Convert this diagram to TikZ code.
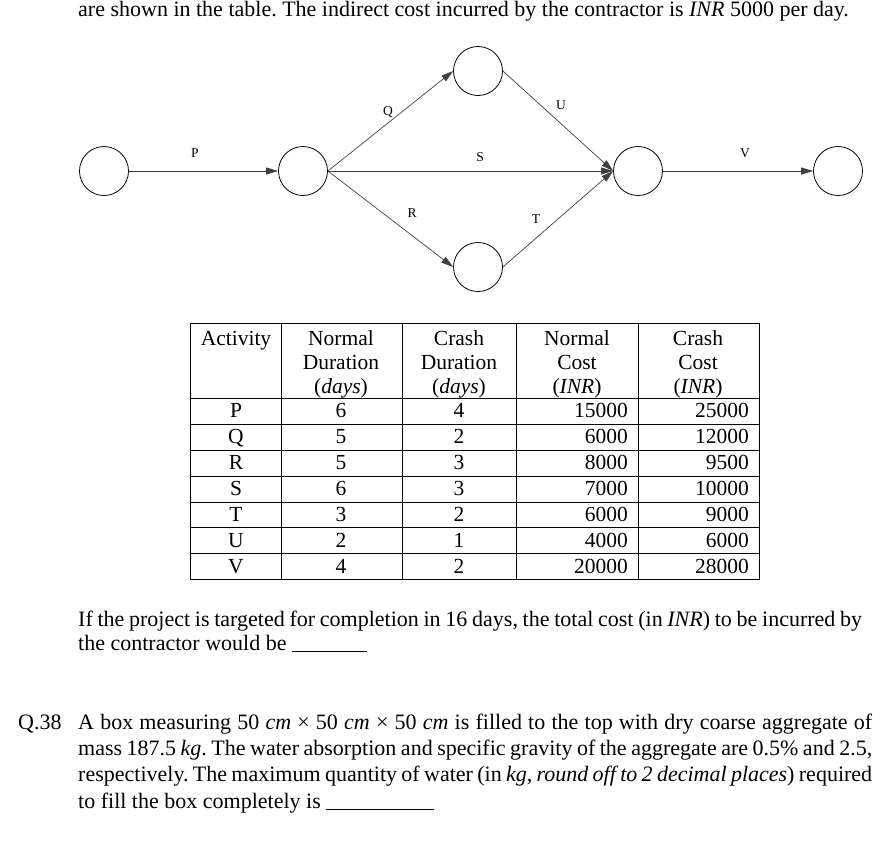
\documentclass[tikz,border=0pt]{standalone}
\usepackage{fontspec}
\setmainfont{Liberation Serif}
\usetikzlibrary{arrows.meta}
\frenchspacing
\begin{document}
\begin{tikzpicture}[x=1pt,y=-1pt,
  ev/.style={circle,draw,thick,minimum size=49pt,inner sep=0pt},
  act/.style={draw=black!75,-{Triangle[length=12pt,width=7pt]},line width=0.7pt},
  lab/.style={font=\fontsize{13.5}{15}\selectfont,inner sep=0pt},
  txt/.style={anchor=base west,inner sep=0pt,font=\fontsize{22}{24}\selectfont},
  cell/.style={anchor=base,inner sep=0pt,font=\fontsize{21.5}{24}\selectfont},
  rc/.style={anchor=base east,inner sep=0pt,font=\fontsize{21.5}{24}\selectfont}]
\useasboundingbox (0,0) rectangle (893,852);
\node[txt] (top) at (78,16) {are shown in the table. The indirect cost incurred by the contractor is \textit{INR} 5000 per day.};
% network
\node[ev] (n1) at (104,171) {};
\node[ev] (n2) at (303,171) {};
\node[ev] (n3) at (478,71) {};
\node[ev] (n4) at (478,267) {};
\node[ev] (n5) at (638,171) {};
\node[ev] (n6) at (838,171) {};
\draw[act] (n1) -- (n2);
\draw[act] (n2.east) -- (n3.west);
\draw[act] (n2.east) -- (n4.west);
\draw[act] (n2.east) -- (n5.west);
\draw[act] (n3.east) -- (n5.west);
\draw[act] (n4.east) -- (n5.west);
\draw[act] (n5) -- (n6);
\node[lab] (lP) at (195,153) {P};
\node[lab] (lQ) at (388,112) {Q};
\node[lab] (lS) at (480,157) {S};
\node[lab] (lR) at (412,213) {R};
\node[lab] (lT) at (536,219) {T};
\node[lab] (lU) at (561,105) {U};
\node[lab] (lV) at (745,153) {V};
% table
\draw[line width=0.7pt] (190,323) rectangle (759,579);
\foreach \x in {281,402,516,638} \draw[line width=0.7pt] (\x,323) -- (\x,579);
\foreach \y in {398,424,450,476,502,527,553} \draw[line width=0.7pt] (190,\y) -- (759,\y);
\node[cell] (h1) at (236,345) {Activity};
\node[cell] (h2a) at (341,345) {Normal};
\node[cell] (h2b) at (341,369) {Duration};
\node[cell] (h2c) at (341,393) {(\textit{days})};
\node[cell] (h3a) at (459,345) {Crash};
\node[cell] (h3b) at (459,369) {Duration};
\node[cell] (h3c) at (459,393) {(\textit{days})};
\node[cell] (h4a) at (577,345) {Normal};
\node[cell] (h4b) at (577,369) {Cost};
\node[cell] (h4c) at (577,393) {(\textit{INR})};
\node[cell] (h5a) at (698,345) {Crash};
\node[cell] (h5b) at (698,369) {Cost};
\node[cell] (h5c) at (698,393) {(\textit{INR})};
\foreach \a/\nd/\cd/\nc/\cc [count=\i] in {P/6/4/15000/25000,Q/5/2/6000/12000,R/5/3/8000/9500,S/6/3/7000/10000,T/3/2/6000/9000,U/2/1/4000/6000,V/4/2/20000/28000}{
  \pgfmathsetmacro\yy{398+25.9*\i-6}
  \node[cell] (a\i) at (236,\yy) {\a};
  \node[cell] (b\i) at (341,\yy) {\nd};
  \node[cell] (c\i) at (459,\yy) {\cd};
  \node[rc] (d\i) at (628,\yy) {\nc};
  \node[rc] (e\i) at (749,\yy) {\cc};
}
% paragraphs
\node[txt] (p1) at (78,626) {\makebox[784pt][s]{If the project is targeted for completion in 16 days, the total cost (in \textit{INR}) to be incurred by}};
\node[txt] (p2) at (78,650) {the contractor would be \underline{\hspace{75pt}}};
\node[txt] (q) at (18,729) {Q.38};
\node[txt] (q1) at (78,729) {\makebox[794pt][s]{A box measuring 50 \textit{cm} × 50 \textit{cm} × 50 \textit{cm} is filled to the top with dry coarse aggregate of}};
\node[txt] (q2) at (78,755) {\makebox[794pt][s]{mass 187.5 \textit{kg}. The water absorption and specific gravity of the aggregate are 0.5\% and 2.5,}};
\node[txt] (q3) at (78,781) {\makebox[794pt][s]{respectively. The maximum quantity of water (in \textit{kg, round off to 2 decimal places}) required}};
\node[txt] (q4) at (78,808) {to fill the box completely is \underline{\hspace{108pt}}};
\end{tikzpicture}
\end{document}
